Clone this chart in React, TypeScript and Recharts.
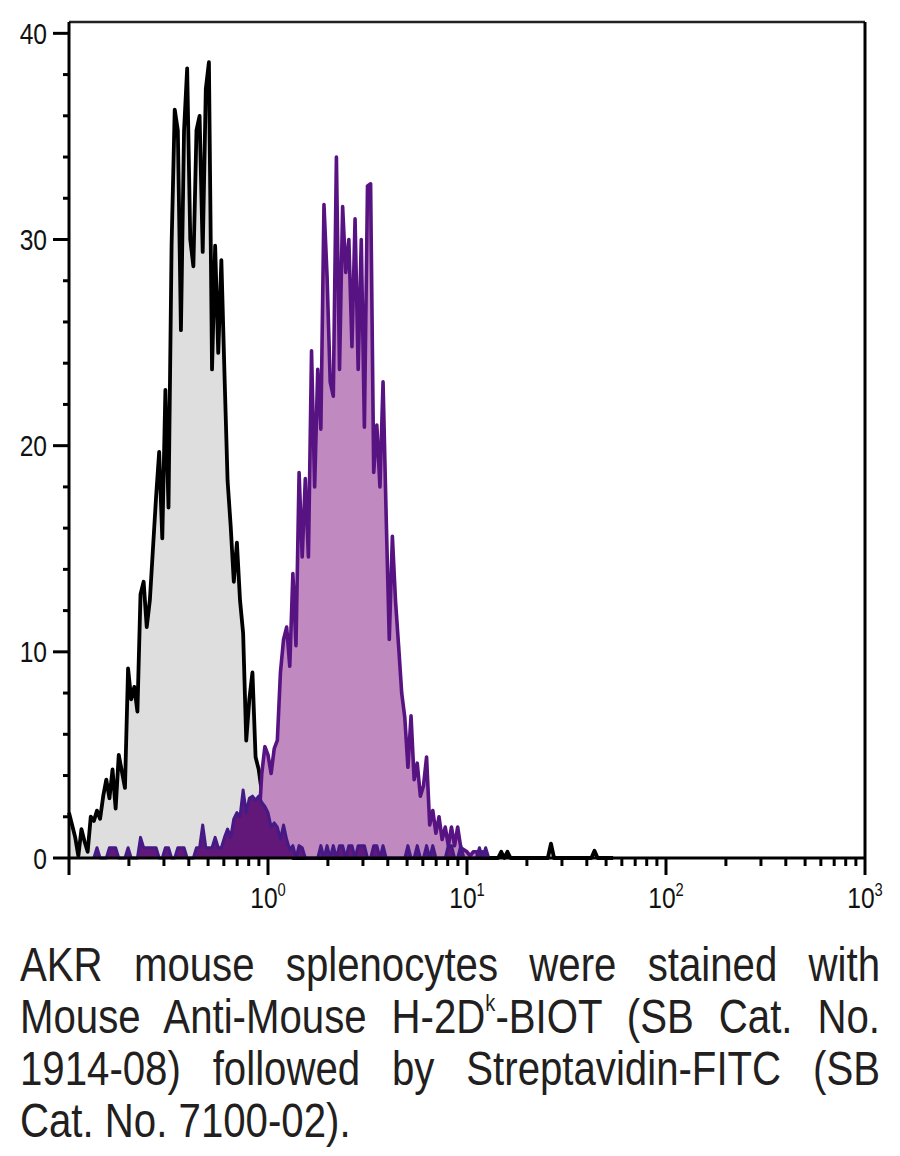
import React from 'react';
import { ComposedChart, Area, XAxis, YAxis, ReferenceLine } from 'recharts';

// Histogram counts per log channel (256 channels over 4 decades, 10^-1 .. 10^3)
const CHANNELS_TOTAL = 256;
const LAST_CHANNEL_SHOWN = 176;

// Unstained / control histogram (grey fill, black outline), starting at channel 0
const CONTROL_START = 0;
const controlCounts = [
  2.2, 1.6, 1.0, 0.1, 1.4, 0.8, 0.3, 2.0, 1.8, 2.3,
  1.9, 3.0, 3.8, 2.9, 4.3, 2.4, 5.0, 4.2, 3.4, 9.2,
  7.7, 8.3, 7.1, 12.8, 13.4, 11.2, 12.5, 15.0, 17.5, 19.7,
  15.5, 22.7, 17.0, 29.8, 36.3, 35.3, 25.6, 35.3, 38.3, 30.0,
  28.7, 35.3, 36.0, 29.4, 37.3, 38.6, 23.7, 29.7, 24.5, 29.0,
  23.5, 18.3, 16.1, 13.4, 15.3, 12.5, 10.9, 5.7, 7.7, 9.0,
  4.9, 4.3, 3.2, 2.5, 1.8, 1.2, 0.8, 1.0, 0.5, 0.6,
  0.2, 0.3, 0,
];
// isolated events of the control sample far right: [channel, count]
const controlTailEvents: [number, number][] = [
  [139, 0.3], [141, 0.3], [155, 0.7], [169, 0.35],
];

// H-2Dk stained histogram (light purple fill), starting at channel 58
const STAINED_START = 58;
const stainedCounts = [
  0, 0.5, 1.0, 1.5, 4.1, 5.4, 5.0, 4.1, 5.3, 5.7,
  9.0, 10.6, 11.2, 9.3, 13.8, 10.3, 18.7, 14.6, 18.4, 14.6,
  24.6, 18.0, 23.7, 20.8, 31.7, 28.2, 23.1, 22.4, 34.0, 23.7,
  31.6, 28.4, 30.0, 24.8, 31.0, 23.7, 30.0, 20.9, 32.6, 32.7,
  18.7, 21.0, 18.0, 23.1, 16.6, 10.6, 15.6, 12.5, 10.3, 8.0,
  6.8, 4.4, 6.9, 3.8, 4.6, 3.0, 3.5, 4.9, 1.6, 2.3,
  1.2, 2.0, 0.9, 1.5, 0.6, 1.5, 0.6, 1.5, 0.5, 0.4,
  0.3, 0.1, 0.3, 0.3, 0, 0.3, 0,
];

// secondary-only histogram (dark purple), starting at channel 8
const SECONDARY_START = 8;
const secondaryCounts = [
  0, 0.5, 0, 0, 0, 0.5, 0.5, 0.5, 0, 0,
  0, 0.5, 0, 0, 0, 1.0, 0.5, 0.5, 0.5, 0.5,
  0.5, 0, 0, 0.5, 0.5, 0, 0, 0.5, 0.5, 0.5,
  0, 0, 0, 0.5, 0.5, 1.6, 0.5, 0.5, 0.5, 1.0,
  0.5, 0.5, 1.0, 1.4, 1.0, 1.9, 2.2, 2.0, 3.3, 2.2,
  2.9, 3.0, 2.8, 3.0, 2.7, 2.5, 2.2, 1.5, 1.7, 1.5,
  0.9, 1.6, 0.9, 0.4, 0.6, 0, 0.6, 0.5, 0, 0,
  0, 0, 0, 0.6, 0, 0.6, 0, 0.6, 0, 0.6,
  0.6, 0, 0.6, 0.6, 0, 0.6, 0.6, 0.6, 0, 0,
  0.6, 0.6, 0, 0.6, 0, 0, 0, 0, 0, 0,
  0, 0.6, 0, 0, 0.6, 0, 0, 0.6, 0, 0.6,
  0, 0, 0, 0, 0.6, 0.6, 0, 0, 0.6, 0,
  0, 0, 0, 0, 0.5, 0, 0.5, 0,
];

const decadeExponents = [-1, 0, 1, 2, 3];
const yTicks = [0, 2, 4, 6, 8, 10, 12, 14, 16, 18, 20, 22, 24, 26, 28, 30, 32, 34, 36, 38, 40];
const yTop = 40.55;

const captionLines = [
  'AKR mouse splenocytes were stained with',
  'Mouse Anti-Mouse H-2D|k|-BIOT (SB Cat. No.',
  '1914-08) followed by Streptavidin-FITC (SB',
  'Cat. No. 7100-02).',
];

const FONT = "'Liberation Sans', Arial, sans-serif";
const NARROW = 0.82;

const channelsPerDecade = CHANNELS_TOTAL / (decadeExponents.length - 1);

// build table
const tailMap = new Map(controlTailEvents.map(([c, v]) => [c, v]));
const table = Array.from({ length: LAST_CHANNEL_SHOWN }, (_, ch) => {
  const ci = ch - CONTROL_START;
  const control = ci < controlCounts.length ? controlCounts[ci] : (tailMap.get(ch) ?? 0);
  const si = ch - STAINED_START;
  const stained = si >= 0 && si < stainedCounts.length ? stainedCounts[si] : null;
  const ki = ch - SECONDARY_START;
  const secondary = ki >= 0 && ki < secondaryCounts.length ? secondaryCounts[ki] : null;
  return { ch, control, stained, secondary };
});

// axis tick positions (decades + minor 2..9) in channel units
const majorTicks = decadeExponents.map((_, i) => i * channelsPerDecade);
const minorTicks: number[] = [];
for (let d = 0; d < decadeExponents.length - 1; d++) {
  for (let m = 2; m <= 9; m++) minorTicks.push(d * channelsPerDecade + channelsPerDecade * Math.log10(m));
}
const xTicks = [...majorTicks, ...minorTicks].sort((a, b) => a - b);
const majorSet = new Set(majorTicks);

const XTick = (props: any) => {
  const { x, y, payload } = props;
  const v = payload.value as number;
  const isMajor = majorSet.has(v);
  const idx = majorTicks.indexOf(v);
  const exp = idx >= 0 ? decadeExponents[idx] : null;
  return (
    <g>
      <line x1={x} x2={x} y1={y} y2={y + (isMajor ? 17 : 8)} stroke="#000" strokeWidth={3} />
      {isMajor && exp !== null && exp >= 0 && (
        <g transform={`translate(${x},${y + 50}) scale(${NARROW},1)`}>
          <text x={0} y={0} textAnchor="middle" fontSize={30} fontFamily={FONT} fill="#111">
            10
            <tspan fontSize={18} dy={-12}>{exp}</tspan>
          </text>
        </g>
      )}
    </g>
  );
};

const YTick = (props: any) => {
  const { x, y, payload } = props;
  const v = payload.value as number;
  const isMajor = v % 10 === 0;
  return (
    <g>
      <line x1={x} x2={x - (isMajor ? 16 : 6)} y1={y} y2={y} stroke="#000" strokeWidth={3} />
      {isMajor && (
        <g transform={`translate(${x - 22},${y + 10.5}) scale(${NARROW},1)`}>
          <text x={0} y={0} textAnchor="end" fontSize={30} fontFamily={FONT} fill="#111">
            {v}
          </text>
        </g>
      )}
    </g>
  );
};

const renderCaptionLine = (line: string) => {
  const parts = line.split('|');
  return parts.map((p, i) =>
    i % 2 === 1 ? (
      <sup key={i} style={{ fontSize: '0.5em', lineHeight: 0, verticalAlign: '0.9em' }}>{p}</sup>
    ) : (
      <React.Fragment key={i}>{p}</React.Fragment>
    )
  );
};

export default function App() {
  return (
    <div style={{ position: 'absolute', left: 0, top: 0, width: 900, height: 1156, background: '#fff', overflow: 'hidden' }}>
      <ComposedChart
        width={900}
        height={930}
        data={table}
        margin={{ top: 22, right: 35, bottom: 12, left: 0 }}
      >
        <Area
          type="linear"
          dataKey="control"
          stroke="#000"
          strokeWidth={3.8}
          fill="#dedede"
          fillOpacity={1}
          strokeLinejoin="round"
          isAnimationActive={false}
        />
        <Area
          type="linear"
          dataKey="stained"
          stroke="#581382"
          strokeWidth={3.6}
          fill="#c089c0"
          fillOpacity={1}
          strokeLinejoin="round"
          isAnimationActive={false}
        />
        <Area
          type="linear"
          dataKey="secondary"
          stroke="#461a86"
          strokeWidth={3}
          fill="#611879"
          fillOpacity={1}
          strokeLinejoin="round"
          isAnimationActive={false}
        />
        <ReferenceLine y={yTop} stroke="#222" strokeWidth={2.5} />
        <ReferenceLine x={CHANNELS_TOTAL} stroke="#000" strokeWidth={3} />
        <XAxis
          dataKey="ch"
          type="number"
          domain={[0, CHANNELS_TOTAL]}
          ticks={xTicks}
          interval={0}
          tickSize={0}
          tickMargin={0}
          tickLine={false}
          tick={<XTick />}
          axisLine={{ stroke: '#000', strokeWidth: 3 }}
          height={60}
        />
        <YAxis
          type="number"
          domain={[0, yTop]}
          ticks={yTicks}
          interval={0}
          tickSize={0}
          tickMargin={0}
          tickLine={false}
          tick={<YTick />}
          axisLine={{ stroke: '#000', strokeWidth: 3 }}
          width={69}
        />
      </ComposedChart>
      <div
        style={{
          position: 'absolute',
          left: 20,
          top: 938,
          width: 860 / NARROW,
          transform: `scaleX(${NARROW})`,
          transformOrigin: '0 0',
          fontFamily: FONT,
          fontSize: 49,
          lineHeight: '52px',
          color: '#231f20',
        }}
      >
        {captionLines.map((line, i) => (
          <div
            key={i}
            style={{
              textAlign: i === captionLines.length - 1 ? 'left' : 'justify',
              textAlignLast: i === captionLines.length - 1 ? 'left' : 'justify',
              whiteSpace: 'nowrap',
            }}
          >
            {renderCaptionLine(line)}
          </div>
        ))}
      </div>
    </div>
  );
}
